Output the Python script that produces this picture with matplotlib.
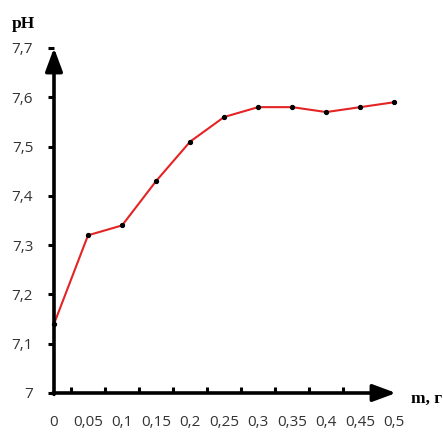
import matplotlib
matplotlib.use("Agg")
import matplotlib.pyplot as plt
from matplotlib.patches import FancyArrowPatch

# Mass of additive (g) and measured pH
mass_labels = ["0", "0,05", "0,1", "0,15", "0,2", "0,25", "0,3", "0,35", "0,4", "0,45", "0,5"]
ph_values = [7.14, 7.32, 7.34, 7.43, 7.51, 7.56, 7.58, 7.58, 7.57, 7.58, 7.59]
y_ticks = [7.0, 7.1, 7.2, 7.3, 7.4, 7.5, 7.6, 7.7]
y_tick_labels = ["7", "7,1", "7,2", "7,3", "7,4", "7,5", "7,6", "7,7"]

W, H = 443, 432
fig = plt.figure(figsize=(W / 100, H / 100), dpi=100)
fig.patch.set_facecolor("white")

left, right = 54 / W, 396 / W
bottom, top = 1 - 393 / H, 1 - 48 / H
ax = fig.add_axes([left, bottom, right - left, top - bottom])

x = list(range(len(mass_labels)))
ax.plot(x, ph_values, color="#e42424", lw=1.5, zorder=3, clip_on=False)
ax.plot(x, ph_values, ls="none", marker="o", ms=2.8, color="black", zorder=4, clip_on=False)

ax.set_xlim(0, 10.05)
ax.set_ylim(7.0, 7.7)

for s in ax.spines.values():
    s.set_visible(False)

tick_font = {"family": "Open Sans", "size": 11, "color": "#333333"}

ax.set_yticks(y_ticks)
ax.set_yticklabels(y_tick_labels, fontdict=tick_font)
ax.tick_params(axis="y", direction="out", length=4, width=2.2, pad=11, color="black")

ax.set_xticks(x)
ax.set_xticklabels(mass_labels, fontdict=tick_font)
ax.tick_params(axis="x", which="major", length=0, pad=16)
ax.set_xticks([i + 0.5 for i in range(9)], minor=True)
ax.tick_params(axis="x", which="minor", direction="in", length=4, width=2.2, color="black")

# Axes drawn as arrows
arrow_kw = dict(arrowstyle="-|>,head_length=0.7,head_width=0.26", mutation_scale=20,
                lw=2.6, color="black", transform=ax.transAxes, clip_on=False, zorder=5)
ax.add_patch(FancyArrowPatch((0, -0.004), (0, 1.0), shrinkA=0, shrinkB=0, **arrow_kw))
ax.add_patch(FancyArrowPatch((-0.003, 0), (1.0, 0), shrinkA=0, shrinkB=0, **arrow_kw))

fig.text(12 / W, 1 - 24 / H, "pH", fontsize=12.5, fontweight="bold",
         family="Liberation Serif", va="center", ha="left")
fig.text(411 / W, 1 - 399 / H, "m, г", fontsize=12.5, fontweight="bold",
         family="Liberation Serif", va="center", ha="left")

fig.savefig("out.png", dpi=100)
